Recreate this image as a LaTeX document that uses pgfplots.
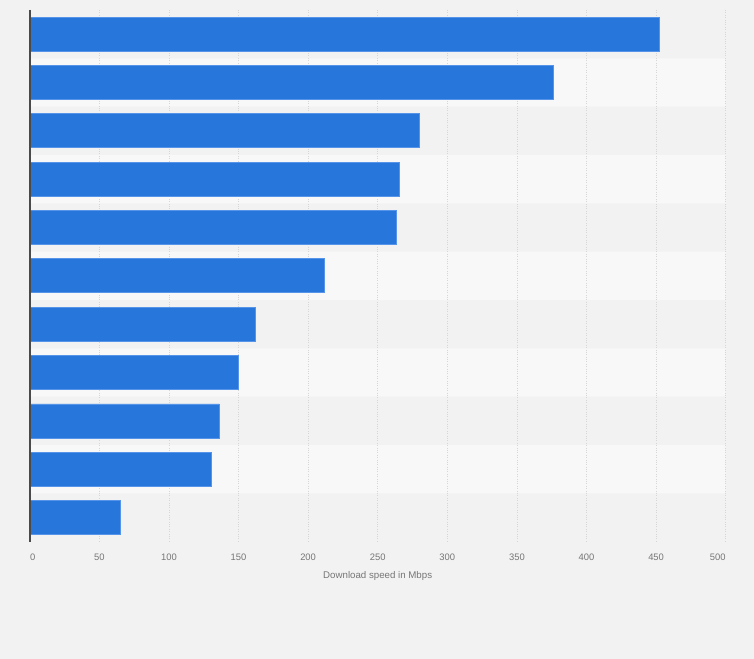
\documentclass[border=0pt]{standalone}
\usepackage{pgfplots}
\pgfplotsset{compat=1.18}
\usepackage{pgfplotstable}
\usepackage{fontspec}
\setmainfont{Liberation Sans}

\definecolor{pagebg}{HTML}{F2F2F2}
\definecolor{stripe}{HTML}{F8F8F8}
\definecolor{barblue}{HTML}{2776DC}
\definecolor{baredge}{HTML}{5594E8}
\definecolor{gridgray}{HTML}{D6D6D6}
\definecolor{ticktext}{HTML}{767676}
\definecolor{axisdark}{HTML}{4A4A4A}
\pagecolor{pagebg}

% layer order with the axis line above the bars
\pgfplotsset{
  layers/linesontop/.define layer set={
    axis background,axis grid,axis ticks,axis tick labels,pre main,main,
    axis lines,axis descriptions,axis foreground
  }{
    grid style={/pgfplots/on layer=axis grid},
    tick style={/pgfplots/on layer=axis ticks},
    axis line style={/pgfplots/on layer=axis lines},
    label style={/pgfplots/on layer=axis descriptions},
    legend style={/pgfplots/on layer=axis descriptions},
    title style={/pgfplots/on layer=axis descriptions},
    colorbar style={/pgfplots/on layer=axis descriptions},
    ticklabel style={/pgfplots/on layer=axis tick labels},
    axis background@ style={/pgfplots/on layer=axis background},
    3d box foreground style={/pgfplots/on layer=axis foreground},
  },
}

% Download speed in Mbps, ranked from the top
\pgfplotstableread{
rank speed
0  452.1
1  375.9
2  279.9
3  265.5
4  263.4
5  211.6
6  162.1
7  149.9
8  136.2
9  130.5
10 65.1
}\speeds

\begin{document}
\begin{tikzpicture}
\path (0bp,0bp) rectangle (754bp,659bp);
\begin{axis}[
  set layers=linesontop,
  at={(29.7bp,117.3bp)}, anchor=south west,
  scale only axis, width=696bp, height=531.7bp,
  xmin=0, xmax=500, ymin=-0.5, ymax=10.5, y dir=reverse,
  axis lines*=left,
  x axis line style={draw=none},
  y axis line style={-, draw=axisdark, line width=1.6bp},
  ytick=\empty,
  xtick={0,50,...,500},
  xticklabels={\hspace*{6bp}0,50,100,150,200,250,300,350,400,450,500\hspace*{16bp}},
  major tick length=0pt,
  xmajorgrids,
  grid style={dotted, draw=gridgray, line width=0.8bp},
  xticklabel style={anchor=base, yshift=-18.4bp, font=\fontsize{9.4bp}{11bp}\selectfont, text=ticktext},
  xlabel={Download speed in Mbps},
  xlabel style={at={(axis description cs:0.5,0)}, anchor=base, yshift=-36.5bp, font=\fontsize{9.7bp}{12bp}\selectfont, text=ticktext},
  clip=false,
]
% alternating row bands behind the grid
\addplot[xbar, bar shift=0pt, bar width=48.336bp, fill=stripe, draw=none,
  on layer=axis background, forget plot]
  coordinates {(500,1) (500,3) (500,5) (500,7) (500,9)};
\addplot[xbar, bar shift=0pt, bar width=34bp, fill=barblue, draw=baredge, line width=0.7bp]
  table[x=speed, y=rank] {\speeds};
\end{axis}
\end{tikzpicture}
\end{document}
